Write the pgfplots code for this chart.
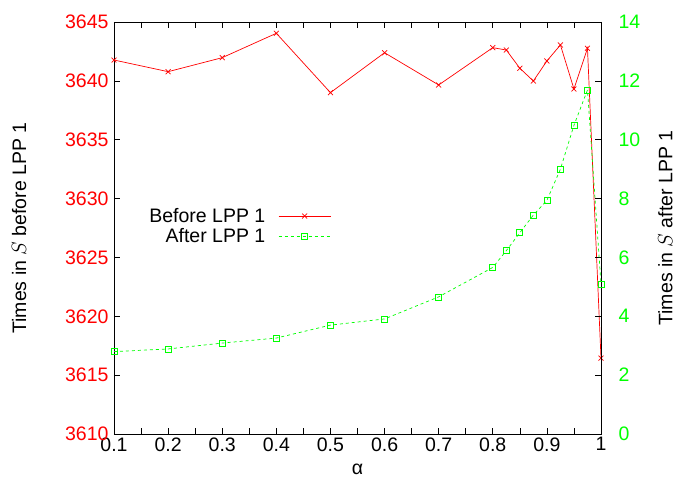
\documentclass[border=0pt]{standalone}
\usepackage{fontspec}
\setmainfont{Liberation Sans}
\usepackage{pgfplots}
\pgfplotsset{compat=1.18}
\definecolor{gred}{RGB}{255,0,0}
\definecolor{ggreen}{RGB}{0,255,0}
\newcommand{\bigf}{\fontsize{19.5}{22}\selectfont}
\begin{document}
\begin{tikzpicture}[font=\bigf]
\path[use as bounding box] (-114pt,-54pt) rectangle (562pt,434pt);
\begin{axis}[
  at={(0pt,0pt)}, anchor=south west,
  scale only axis, width=487pt, height=412pt,
  xmin=0.1, xmax=1, ymin=3610, ymax=3645,
  xtick={0.1,0.2,0.3,0.4,0.5,0.6,0.7,0.8,0.9,1},
  xticklabels={0.1,0.2,0.3,0.4,0.5,0.6,0.7,0.8,0.9,1},
  minor xtick={0.15,0.25,0.35,0.45,0.55,0.65,0.75,0.85,0.95},
  ytick={3610,3615,3620,3625,3630,3635,3640,3645},
  yticklabels={3610,3615,3620,3625,3630,3635,3640,3645},
  tick label style={font=\bigf},
  label style={font=\bigf},
  yticklabel style={text=gred, xshift=-2pt},
  major tick length=6pt, minor tick length=6pt,
  tick style={black, line width=0.6pt},
  axis line style={line width=0.8pt},
  xlabel={α},
  ylabel={Times in $S$ before LPP 1},
  ylabel style={yshift=32pt},
  xlabel style={yshift=-6pt},
  clip=false,
]
\addplot[gred, line width=0.7pt, mark=x, mark size=3.5pt, mark options={solid}] coordinates {
(0.1,3641.77) (0.2,3640.78) (0.3,3641.97) (0.4,3644.04) (0.5,3639.0)
(0.6,3642.39) (0.7,3639.65) (0.8,3642.82) (0.825,3642.62) (0.85,3641.07)
(0.875,3639.99) (0.9,3641.69) (0.925,3643.05) (0.95,3639.31) (0.975,3642.77)
(1.0,3616.45)};
\end{axis}
\begin{axis}[
  at={(0pt,0pt)}, anchor=south west,
  scale only axis, width=487pt, height=412pt,
  xmin=0.1, xmax=1, ymin=0, ymax=14,
  hide x axis,
  axis y line*=right,
  ytick={0,2,4,6,8,10,12,14},
  yticklabels={0,2,4,6,8,10,12,14},
  tick label style={font=\bigf},
  label style={font=\bigf},
  yticklabel style={text=ggreen, xshift=14pt},
  major tick length=6pt,
  tick style={black, line width=0.6pt},
  axis line style={line width=0.8pt},
  ylabel={Times in $S$ after LPP 1},
  ylabel style={yshift=-11pt},
  clip=false,
  legend style={draw=none, fill=none, at={(0.446,0.504)}, anchor=east,
    legend cell align=right, inner sep=0pt, row sep=5pt, font=\bigf,
    nodes={inner sep=0pt},
    /tikz/every odd column/.append style={column sep=13pt}},
  legend plot pos=right,
  legend image code/.code={\draw[mark repeat=2,mark phase=2,#1] plot coordinates {(0pt,0pt) (26pt,0pt) (52pt,0pt)};},
]
\addlegendimage{gred, line width=0.7pt, mark=x, mark size=3.5pt, mark options={solid}}
\addlegendentry{Before LPP 1}
\addplot[ggreen, line width=0.7pt, dashed, mark=square, mark size=3pt, mark options={solid}] coordinates {
(0.1,2.80) (0.2,2.89) (0.3,3.09) (0.4,3.26) (0.5,3.70)
(0.6,3.91) (0.7,4.66) (0.8,5.66) (0.825,6.23) (0.85,6.84)
(0.875,7.44) (0.9,7.94) (0.925,9.00) (0.95,10.49) (0.975,11.69)
(1.0,5.09)};
\addlegendentry{After LPP 1}
\end{axis}
\end{tikzpicture}
\end{document}
